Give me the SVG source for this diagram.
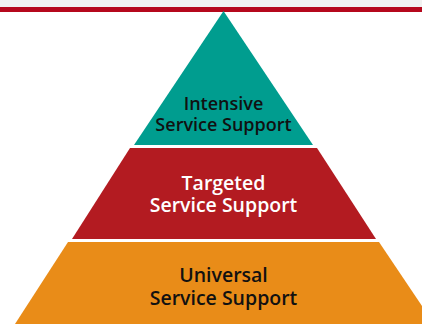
<svg xmlns="http://www.w3.org/2000/svg" width="422" height="324" viewBox="0 0 422 324">
<style>
.lbl{font-family:"Open Sans","Liberation Sans",Arial,sans-serif;font-weight:600;text-anchor:middle}
.dark{fill:#111111}
.light{fill:#ffffff}
</style>
<rect x="0" y="0" width="422" height="324" fill="#ffffff"/>
<rect x="0" y="0" width="422" height="7" fill="#f0f1f0"/>
<rect x="0" y="7" width="422" height="5" fill="#b5081c"/>
<g id="intensive">
<polygon points="223.5,11 313,145 134,145" fill="#009d8f"/>
<text class="lbl dark" x="223.5" y="110" font-size="18">Intensive</text>
<text class="lbl dark" x="223.5" y="131" font-size="18">Service Support</text>
</g>
<g id="targeted">
<polygon points="130,148 317,148 376,239 72,239" fill="#b31b21"/>
<text class="lbl light" x="223.5" y="190" font-size="19.5">Targeted</text>
<text class="lbl light" x="223.5" y="212" font-size="19.5">Service Support</text>
</g>
<g id="universal">
<polygon points="68,242 379,242 434,324 15,324" fill="#e98c18"/>
<text class="lbl dark" x="223.5" y="282" font-size="19.5">Universal</text>
<text class="lbl dark" x="223.5" y="305" font-size="19.5">Service Support</text>
</g>
<g id="connectors"></g>
</svg>
